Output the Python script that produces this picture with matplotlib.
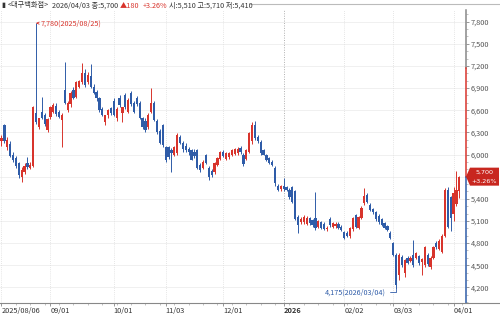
import matplotlib
matplotlib.use("Agg")
import matplotlib.pyplot as plt
from matplotlib.lines import Line2D
from matplotlib.patches import Polygon
from matplotlib.ticker import FixedLocator, MultipleLocator, FuncFormatter

plt.rcParams['font.family'] = ['Noto Sans CJK KR', 'DejaVu Sans']

# daily candles, 2025/08/06 .. 2026/04/03
opens = [6180, 6400, 6100, 6140, 6000, 5950, 5880, 5700, 5760, 5880, 5820, 5850, 6560, 6370, 6580, 6540,
         6330, 6510, 6580, 6660, 6580, 6470, 6870, 6600, 6680, 6880, 6780, 6920, 6980, 7100, 6980, 7060,
         6920, 6850, 6760, 6620, 6440, 6530, 6630, 6720, 6490, 6770, 6560, 6800, 6580, 6830, 6700, 6770,
         6700, 6490, 6460, 6370, 6580, 6700, 6460, 6320, 6400, 6100, 6100, 6060, 6000, 6020, 6240, 6160,
         6120, 6080, 6060, 6040, 6060, 5860, 5820, 5990, 5820, 5780, 5760, 5860, 5940, 6040, 5940, 5960,
         6000, 6010, 6020, 6090, 5990, 5940, 6040, 6180, 6400, 6240, 6170, 6060, 5990, 5950, 5900, 5820,
         5580, 5530, 5580, 5560, 5520, 5560, 5500, 5160, 5080, 5080, 5060, 5140, 5110, 5140, 5020, 5080,
         5060, 4990, 5130, 5020, 5030, 5060, 5020, 4950, 4940, 4890, 4990, 5180, 5010, 5140, 5340, 5450,
         5320, 5260, 5220, 5170, 5120, 5070, 5030, 4940, 4800, 4640, 4370, 4610, 4400, 4600, 4560, 4640,
         4600, 4620, 4540, 4500, 4640, 4470, 4600, 4800, 4720, 4680, 4900, 5520, 5420, 5200, 5330, 5510]
highs = [6260, 6420, 6240, 6180, 6040, 5980, 5900, 5830, 5880, 5960, 5900, 6660, 7780, 6500, 6780, 6560,
         6500, 6660, 6700, 6700, 6600, 6560, 7250, 6730, 6860, 6920, 7000, 7010, 7240, 7160, 7120, 7230,
         6950, 6870, 6780, 6650, 6540, 6620, 6650, 6760, 6640, 6800, 6650, 6830, 6760, 6860, 6720, 6790,
         6720, 6510, 6500, 6560, 6900, 6720, 6480, 6340, 6420, 6120, 6120, 6090, 6110, 6290, 6270, 6180,
         6150, 6100, 6080, 6070, 6080, 5880, 5920, 6010, 5840, 5800, 5900, 5960, 6050, 6060, 6040, 6040,
         6080, 6090, 6100, 6110, 6020, 6070, 6310, 6440, 6450, 6260, 6200, 6080, 6010, 5970, 5920, 5840,
         5600, 5590, 5680, 5580, 5540, 5580, 5520, 5180, 5150, 5180, 5170, 5160, 5130, 5490, 5110, 5100,
         5080, 5030, 5150, 5090, 5090, 5080, 5040, 4970, 4960, 5020, 5160, 5200, 5170, 5300, 5540, 5480,
         5340, 5280, 5240, 5190, 5140, 5090, 5050, 4960, 4820, 4660, 4660, 4640, 4590, 4620, 4620, 4840,
         4680, 4640, 4600, 4760, 4660, 4620, 4760, 4830, 4850, 4920, 5540, 5560, 5440, 5560, 5780, 5710]
lows = [6120, 6150, 6060, 5960, 5900, 5820, 5680, 5630, 5740, 5800, 5800, 5830, 6420, 6340, 6480, 6380,
        6300, 6480, 6560, 6520, 6490, 6100, 6680, 6580, 6650, 6750, 6760, 6900, 6960, 6920, 6960, 6900,
        6820, 6730, 6580, 6520, 6400, 6500, 6540, 6520, 6460, 6640, 6440, 6620, 6560, 6660, 6560, 6660,
        6480, 6350, 6300, 6340, 6560, 6450, 6280, 6140, 6100, 5900, 5940, 5760, 5980, 6000, 6140, 6040,
        6030, 6000, 5920, 5950, 5800, 5760, 5800, 5870, 5660, 5700, 5740, 5840, 5920, 5960, 5920, 5940,
        5980, 5990, 6000, 6010, 5840, 5920, 6020, 6140, 6200, 6160, 6000, 5990, 5910, 5870, 5840, 5580,
        5500, 5510, 5500, 5500, 5400, 5340, 5110, 4930, 5060, 5060, 5040, 5050, 5020, 4980, 5000, 4990,
        4980, 4970, 5020, 5000, 5010, 4990, 4960, 4850, 4880, 4870, 4970, 5000, 4990, 5120, 5320, 5340,
        5230, 5200, 5100, 5060, 5030, 4990, 4960, 4850, 4620, 4175, 4300, 4480, 4340, 4510, 4540, 4480,
        4580, 4500, 4370, 4480, 4490, 4450, 4580, 4720, 4700, 4660, 4880, 5000, 4970, 5100, 5300, 5410]
closes = [6230, 6180, 6200, 5980, 5930, 5840, 5720, 5790, 5850, 5830, 5860, 6640, 6440, 6490, 6500, 6410,
          6480, 6640, 6670, 6550, 6510, 6540, 6700, 6700, 6840, 6770, 6980, 6990, 7100, 6940, 7080, 6920,
          6840, 6760, 6600, 6540, 6530, 6600, 6560, 6540, 6620, 6670, 6640, 6640, 6740, 6680, 6580, 6680,
          6500, 6370, 6330, 6540, 6700, 6470, 6300, 6160, 6130, 5930, 5960, 6020, 6100, 6260, 6160, 6070,
          6060, 6040, 5930, 5980, 5820, 5790, 5900, 5880, 5690, 5720, 5880, 5950, 6030, 5980, 6020, 6020,
          6060, 6070, 6080, 6030, 5870, 6060, 6290, 6400, 6230, 6180, 6020, 6000, 5930, 5890, 5860, 5610,
          5520, 5570, 5530, 5520, 5420, 5360, 5130, 5050, 5130, 5150, 5140, 5070, 5040, 5000, 5100, 5010,
          4990, 5010, 5040, 5070, 5060, 5010, 4980, 4870, 4900, 5000, 5140, 5020, 5150, 5280, 5440, 5360,
          5250, 5220, 5120, 5080, 5050, 5010, 4980, 4870, 4640, 4230, 4640, 4500, 4570, 4530, 4600, 4500,
          4660, 4530, 4580, 4740, 4510, 4600, 4740, 4740, 4830, 4900, 5520, 5020, 5140, 5480, 5520, 5700]

tick_idx = [0, 17, 39, 57, 77, 98, 119, 136, 157]
tick_labels = ["2025/08/06", "09/01", "10/01", "11/03", "12/01", "2026", "02/02", "03/03", "04/01"]
price_ticks = list(range(4200, 7801, 300))

stock_name = "<대구백화점>"
last_date = "2026/04/03"
high_date = "2025/08/25"
low_date = "2026/03/04"
limit_up = 7170

RED = '#d8342c'
BLUE = '#2f5ca8'
W, H = 500, 315

fig = plt.figure(figsize=(W / 100, H / 100), dpi=100)
ax = fig.add_axes([0, 12 / H, 466 / W, 293 / H])

xs = list(range(len(closes)))
cols = [RED if c >= o else BLUE for o, c in zip(opens, closes)]
ax.vlines(xs, lows, highs, colors=cols, linewidth=0.7, zorder=3)
bottoms = [min(o, c) for o, c in zip(opens, closes)]
heights = [max(abs(c - o), 10) for o, c in zip(opens, closes)]
ax.bar(xs, heights, bottom=bottoms, width=0.78, color=cols, linewidth=0, zorder=4)

ax.set_xlim(-0.52, 161.3)
ax.set_ylim(3988, 7958)

for s in ['top', 'left', 'right', 'bottom']:
    ax.spines[s].set_visible(False)

# grid
for p in price_ticks:
    ax.axhline(p, color='#eeeeee', linewidth=0.6, zorder=0)
for i, lab in zip(tick_idx, tick_labels):
    if lab == "2026":
        ax.axvline(i, color='#b0b0b0', linewidth=0.7, linestyle=(0, (1, 1.5)), zorder=0)
    else:
        ax.axvline(i, color='#dddddd', linewidth=0.6, linestyle=(0, (1, 1.5)), zorder=0)

# y axis on the right (the label under the price tag is hidden)
ax.yaxis.tick_right()
ax.yaxis.set_major_locator(FixedLocator(price_ticks))
ax.yaxis.set_minor_locator(MultipleLocator(100))
ax.yaxis.set_major_formatter(FuncFormatter(lambda v, p: "" if int(v) == closes[-1] else f"{int(v):,}"))
ax.tick_params(axis='y', which='major', direction='out', length=2.5, width=0.6,
               color='#888888', labelsize=5.3, labelcolor='#555555', pad=1)
ax.tick_params(axis='y', which='minor', direction='out', length=1.3, width=0.5, color='#aaaaaa')

# coloured right axis line
xr = 161.2
ax.plot([xr, xr], [limit_up, 7958], color='#888888', linewidth=1.1, clip_on=False, zorder=5)
ax.plot([xr, xr], [closes[-1], limit_up], color=RED, linewidth=1.1, clip_on=False, zorder=5)
ax.plot([xr, xr], [3988, closes[-1]], color=BLUE, linewidth=1.1, clip_on=False, zorder=5)

# x axis
ax.xaxis.set_major_locator(FixedLocator(tick_idx))
ax.xaxis.set_minor_locator(MultipleLocator(5))
ax.set_xticklabels(tick_labels, ha='left')
for t in ax.get_xticklabels():
    if t.get_text() == "2026":
        t.set_fontweight('bold')
ax.tick_params(axis='x', which='major', direction='out', length=2, width=0.6,
               color='#888888', labelsize=5.3, labelcolor='#333333', pad=1)
ax.tick_params(axis='x', which='minor', direction='out', length=1.3, width=0.5, color='#aaaaaa')

fig.add_artist(Line2D([0, 1], [12 / H, 12 / H], color='#888888', linewidth=0.8))
fig.add_artist(Line2D([0.5, 1], [1 - 3.5 / H, 1 - 3.5 / H], color='#bbbbbb', linewidth=0.8))

# high / low annotations
hi_i = highs.index(max(highs))
lo_i = lows.index(min(lows))
ax.annotate(f"{max(highs):,}({high_date})", xy=(hi_i, max(highs)), xytext=(hi_i + 1.6, max(highs)),
            color=RED, fontsize=5.2, va='center', ha='left',
            arrowprops=dict(arrowstyle='->', color=RED, lw=0.6, shrinkA=0, shrinkB=0,
                            mutation_scale=4))
ax.annotate(f"{min(lows):,}({low_date})", xy=(lo_i, min(lows)), xytext=(lo_i - 3.5, min(lows) - 40),
            color=BLUE, fontsize=5.2, va='center', ha='right',
            arrowprops=dict(arrowstyle='-', color=BLUE, lw=0.6, shrinkA=1, shrinkB=0,
                            connectionstyle='angle,angleA=0,angleB=90,rad=0'))

# price tag
fig.canvas.draw()
tx, ty = ax.transData.transform((161.3, closes[-1]))
tag = Polygon([(tx, ty), (tx + 4, ty + 9), (W - 1, ty + 9), (W - 1, ty - 9), (tx + 4, ty - 9)],
              closed=True, transform=None, facecolor='#c8271f', edgecolor='none', zorder=10)
fig.add_artist(tag)
chg = closes[-1] - closes[-2]
pct = chg / closes[-2] * 100
fig.text((tx + 18) / W, (ty + 4.4) / H, f"{closes[-1]:,}", color='white', fontsize=4.6, ha='center',
         va='center', zorder=11, family='DejaVu Sans')
fig.text((tx + 18) / W, (ty - 4.4) / H, f"+{pct:.2f}%", color='white', fontsize=4.6, ha='center',
         va='center', zorder=11, family='DejaVu Sans')

# header
renderer = fig.canvas.get_renderer()
pieces = [
    ("▮", '#333333'),
    (stock_name, '#333333'),
    (f"{last_date} 종:{closes[-1]:,}", '#333333'),
    (f"▲{chg:,}", RED),
    (f"+{pct:.2f}%", RED),
    (f"시:{opens[-1]:,} 고:{highs[-1]:,} 저:{lows[-1]:,}", '#333333'),
]
xpos = 1.5
for txt, col in pieces:
    t = fig.text(xpos / W, 1 - 5.5 / H, txt, color=col, fontsize=5.2, ha='left', va='center')
    bb = t.get_window_extent(renderer)
    xpos = bb.x1 + 2.5

fig.savefig("out.png", dpi=100)
